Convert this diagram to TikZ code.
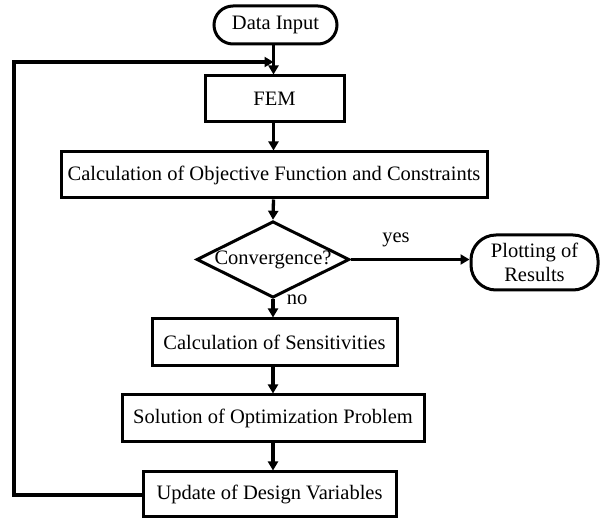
\documentclass[tikz,border=0pt]{standalone}
\usepackage{fontspec}
\setmainfont{Liberation Serif}
\usetikzlibrary{arrows.meta,shapes.geometric}
\begin{document}
\begin{tikzpicture}[x=1pt,y=-1pt,
  every node/.style={font=\fontsize{20.5}{23.5}\selectfont, inner sep=0pt},
  procbox/.style={draw, line width=3pt, rectangle, align=center},
  termbox/.style={draw, line width=3pt, rectangle, align=center},
  decbox/.style={draw, line width=3pt, diamond, aspect=2, inner sep=0pt},
  flow/.style={line width=3.3pt, -{Triangle[length=9pt,width=10pt]}},
  link/.style={line width=3.3pt}]
\useasboundingbox (0,0) rectangle (603,518);
\node[termbox, rounded corners=19pt, minimum width=123pt, minimum height=38pt] (din) at (275.5,25) {Data Input};
\node[procbox, minimum width=139pt, minimum height=46pt] (fem) at (274.5,99) {FEM};
\node[procbox, minimum width=426pt, minimum height=46pt] (obj) at (274,175) {Calculation of Objective Function and Constraints};
\node[decbox, minimum width=151pt, minimum height=75pt] (conv) at (273,259.5) {Convergence?};
\node[termbox, rounded corners=25pt, minimum width=127pt, minimum height=55pt] (plot) at (534.5,262.5) {Plotting of\\Results};
\node[procbox, minimum width=245pt, minimum height=47pt] (sens) at (274.5,342.5) {Calculation of Sensitivities};
\node[procbox, minimum width=302pt, minimum height=47pt] (sol) at (273,418.5) {Solution of Optimization Problem};
\node[procbox, minimum width=253pt, minimum height=45pt] (upd) at (269.5,494.5) {Update of Design Variables};
\coordinate (join) at (273.5,62);
\coordinate (lowleft) at (14,495);
\coordinate (topleft) at (14,62);
\draw[flow] (din.south -| join) -- (join |- fem.north);
\draw[flow] (join |- fem.south) -- (join |- obj.north);
\draw[flow] (join |- obj.south) -- (conv.north);
\draw[flow] (conv.east) -- (plot.west |- conv.east);
\draw[flow] (conv.south) -- (conv.south |- sens.north);
\draw[flow] (conv.south |- sens.south) -- (conv.south |- sol.north);
\draw[flow] (conv.south |- sol.south) -- (conv.south |- upd.north);
\draw[flow, line join=miter] (upd.west |- lowleft) -- (lowleft) -- (topleft) -- (join);
\node (yes) at (396,240) {yes};
\node (no) at (297,300) {no};
\end{tikzpicture}
\end{document}
